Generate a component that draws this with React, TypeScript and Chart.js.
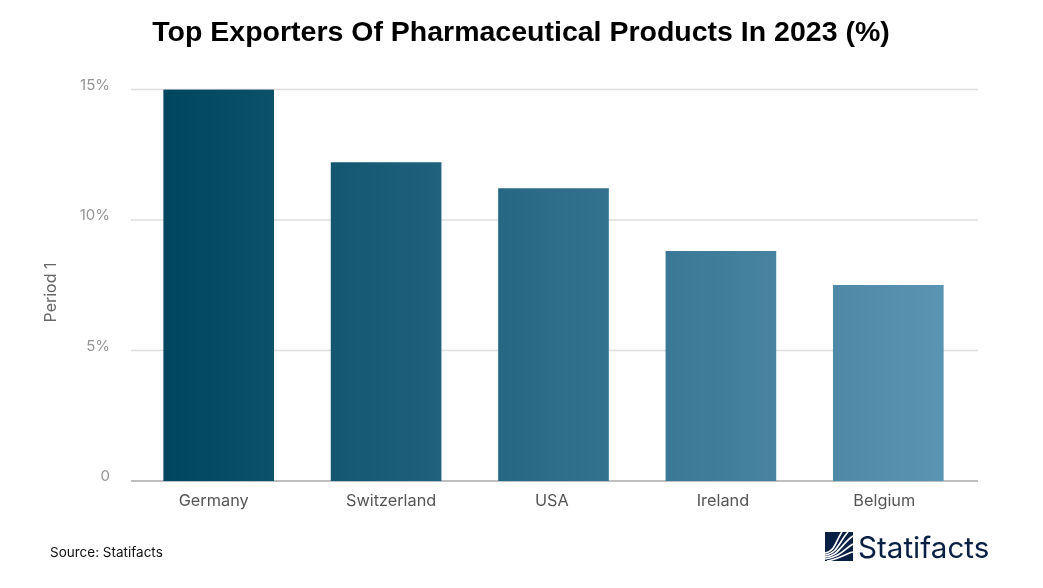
import { useEffect, useRef } from 'react';
import { Chart, registerables } from 'chart.js';
import type { Plugin } from 'chart.js';

Chart.register(...registerables);

const countries = ['Germany', 'Switzerland', 'USA', 'Ireland', 'Belgium'];
const shares = [15, 12.2, 11.2, 8.8, 7.5];
const yTicks = [0, 5, 10, 15];
// the x labels in the picture sit a little off their bar centres (in category units)
const labelShift = [-0.03, 0.03, -0.01, 0.012, -0.024];

const FONT = 'Inter, "Liberation Sans", sans-serif';

// gridlines run a little wider than the category band, so they are drawn here
const wideGrid: Plugin<'bar'> = {
  id: 'wideGrid',
  beforeDatasetsDraw(chart) {
    const { ctx, scales } = chart;
    ctx.save();
    yTicks.forEach((v) => {
      const y = scales.y.getPixelForValue(v);
      ctx.strokeStyle = v === 0 ? '#a9a9a9' : '#dddddd';
      ctx.lineWidth = v === 0 ? 1.5 : 1.3;
      ctx.beginPath();
      ctx.moveTo(131, y);
      ctx.lineTo(978, y);
      ctx.stroke();
    });
    ctx.restore();
  },
};

// title, y axis name, source and wordmark are placed on the page, not in the chart box
const pageText: Plugin<'bar'> = {
  id: 'pageText',
  afterDraw(chart) {
    const { ctx } = chart;
    ctx.save();
    ctx.textBaseline = 'middle';

    ctx.fillStyle = '#000000';
    ctx.font = 'bold 28.5px "Liberation Sans", sans-serif';
    ctx.textAlign = 'center';
    ctx.fillText('Top Exporters Of Pharmaceutical Products In 2023 (%)', 521, 33.5);

    ctx.save();
    ctx.translate(51, 292.5);
    ctx.rotate(-Math.PI / 2);
    ctx.fillStyle = '#666666';
    ctx.font = `16px ${FONT}`;
    ctx.fillText('Period 1', 0, 0);
    ctx.restore();

    ctx.textAlign = 'left';
    ctx.fillStyle = '#111111';
    ctx.font = `13.5px ${FONT}`;
    ctx.fillText('Source: Statifacts', 50, 552.5);
    ctx.fillStyle = '#0a1f44';
    ctx.font = `29.6px ${FONT}`;
    ctx.fillText('Statifacts', 858, 549.5);
    ctx.restore();
  },
};

function Logo() {
  return (
    <svg
      width="28"
      height="29"
      viewBox="0 0 28 29"
      style={{ position: 'absolute', left: 825, top: 532 }}
    >
      <rect width="28" height="29" fill="#0a1f44" />
      <g fill="none" stroke="#ffffff" strokeWidth="1.7">
        <path d="M0 21 C10 20 11 8 17 0" />
        <path d="M0 23 C12 22 14 10 23 0" />
        <path d="M0 25 C14 24 16 12 28 4" />
        <path d="M0 27 C16 25 20 16 28 12" />
        <path d="M2 29 C14 27 22 21 28 20" />
      </g>
    </svg>
  );
}

export default function App() {
  const canvasRef = useRef<HTMLCanvasElement | null>(null);

  useEffect(() => {
    document.body.style.margin = '0';
    const ctx = canvasRef.current?.getContext('2d');
    if (!ctx) return;

    // one gradient over all the bars, dark on the left to light on the right
    const fill = ctx.createLinearGradient(164, 0, 943, 0);
    fill.addColorStop(0, '#00465f');
    fill.addColorStop(1, '#5a94b3');

    const chart = new Chart(ctx, {
      type: 'bar',
      data: {
        labels: countries,
        datasets: [
          {
            label: 'Period 1',
            data: shares,
            backgroundColor: fill,
            barThickness: 110,
          },
        ],
      },
      options: {
        responsive: false,
        animation: false,
        layout: { padding: { left: 40, right: 71, top: 89.5, bottom: 0 } },
        plugins: {
          legend: { display: false },
          tooltip: { enabled: false },
          title: { display: false },
        },
        scales: {
          x: {
            grid: { display: false },
            border: { display: false },
            afterFit: (scale) => {
              scale.height = 107;
            },
            afterBuildTicks: (scale) => {
              scale.ticks = countries.map((_, i) => ({ value: i + labelShift[i] }));
            },
            ticks: {
              color: '#555555',
              font: { family: FONT, size: 16.3 },
              padding: 2,
              maxRotation: 0,
              autoSkip: false,
              callback: (_, i) => countries[i],
            },
          },
          y: {
            min: 0,
            max: 15,
            grid: { display: false },
            border: { display: false },
            afterFit: (scale) => {
              scale.width = 95;
            },
            afterBuildTicks: (scale) => {
              scale.ticks = yTicks.map((value) => ({ value }));
            },
            ticks: {
              color: '#939393',
              font: { family: FONT, size: 15 },
              padding: 17,
              labelOffset: -4.5,
              callback: (v) => (v === 0 ? '0' : `${v}%`),
            },
          },
        },
      },
      plugins: [wideGrid, pageText],
    });

    return () => {
      chart.destroy();
    };
  }, []);

  return (
    <div style={{ position: 'relative', width: 1043, height: 588 }}>
      <canvas ref={canvasRef} width={1043} height={588} style={{ display: 'block' }} />
      <Logo />
    </div>
  );
}
